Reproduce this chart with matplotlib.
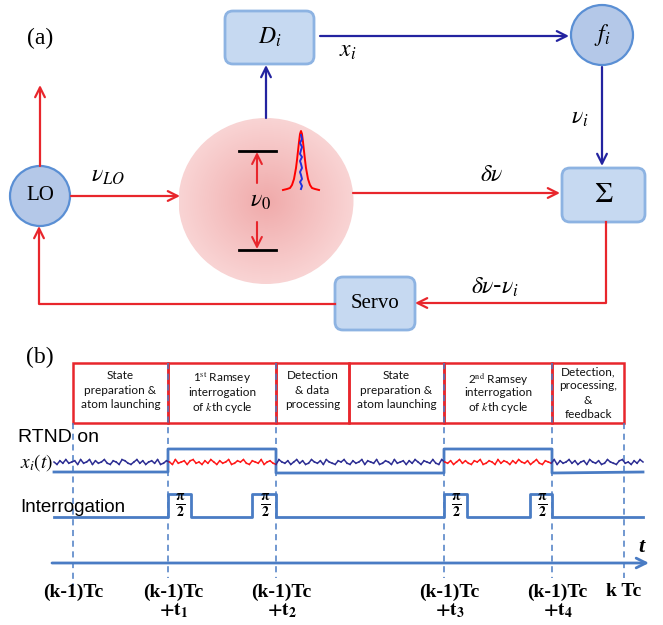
import numpy as np
import matplotlib
matplotlib.use("Agg")
import matplotlib.pyplot as plt
from matplotlib.patches import FancyBboxPatch, Ellipse, Circle

plt.rcParams['mathtext.fontset'] = 'stix'

# ---- data ----
# (b) timing diagram: phase boundaries along the time axis (diagram units)
phase_edges = [73, 168, 276, 349, 444, 552, 624]
phase_labels = [
    ["State", "preparation &", "atom launching"],
    [r"1$^{\rm st}$ Ramsey", "interrogation", r"of $k$th cycle"],
    ["Detection", "& data", "processing"],
    ["State", "preparation &", "atom launching"],
    [r"2$^{\rm nd}$ Ramsey", "interrogation", r"of $k$th cycle"],
    ["Detection,", "processing,", "&", "feedback"],
]
# time markers and their labels
tick_times = [73, 168, 276, 444, 552, 624]
tick_top = ["(k-1)Tc", "(k-1)Tc", "(k-1)Tc", "(k-1)Tc", "(k-1)Tc", "k Tc"]
tick_bottom = ["", r"$\mathbf{+t_1}$", r"$\mathbf{+t_2}$", r"$\mathbf{+t_3}$", r"$\mathbf{+t_4}$", ""]
# RTND on windows (ramsey interrogations) and pi/2 pulses
rtnd_windows = [(168, 276), (444, 552)]
pulses = [(168, 191), (252, 276), (444, 467), (530, 552)]
# x_i(t) trace, read by eye (offsets)
trace = [0, 2, -1, 1, -2, 1, 0, -1, 2, -2, 1, 0, -2, 2, -1, 1, 0, -2, 1, 2,
         -1, 0, 2, -2, -1, 1, 2, 0, -2, 1, -1, 2, 0, -1, 1, -2, 2, 1, -1, 0,
         2, -2, 1, 0, -1, 2, -1, -2, 1, 0, 2, -1, 1, -2, 0, 2, -1, 1, 0, -2,
         2, 1, -1, 0, -2, 1, 2, -1, 0, 1, -2, 2, 0, -1, 1, 2, -2, 0, 1, -1,
         2, 0, -2, 1, -1, 2, 1, -2, 0, 1, -1, 2, -2, 0, 1, 2, -1, 0, -2, 1,
         2, -1, 1, 0, -2, 2, -1, 0, 1, -2, 2, 1, -1, 0, 2, -2, 1, 0, -1, 2,
         -1, 1, -2, 0, 2, -1, 0, 1, -2, 1, 2, -2, 0, 1, -1, 2, 0, -2, 1, -1,
         1, 2, -1, 0, -2, 2, 1, -1, 0, 2, -2, 1, -1, 0, 2, -1, 1, -2, 0, 1,
         -1, 2, 0, -2, 1, 2, -1, 0, 1, -2, 2, -1, 1, 0, -2, 1, -1, 2, 0, -1,
         2, -2, 0, 1, -1, 2, 1, -2, 0, 1, 2, -1, -2, 1, 0, 2, -1, 1, -2, 0]
# line profile sketched in the atom cloud
prof_dx = [-18, -14, -11, -9, -7, -5, -4, -3, -2, -1, 0, 1, 2, 3, 4, 5, 7, 9, 11, 14, 18]
prof_h = [0, 1, 2, 5, 11, 22, 30, 39, 48, 56, 59, 56, 48, 39, 30, 22, 11, 5, 2, 1, 0]
meas_dx = [0, 1, -1, 1, 0, -1, 1, -1, 0, 1, -1, 0, 1, -1, 1, 0]
meas_h = [55, 51, 47, 43, 40, 36, 33, 29, 26, 22, 18, 15, 11, 8, 4, 1]

RED = '#e8262c'
NAVY = '#2323a0'
BOXF = '#c6d9f1'
BOXE = '#8db3e2'
CIRF = '#b4c8e8'
CIRE = '#5a8fd4'
TL = '#4a7cc4'

fig = plt.figure(figsize=(6.63, 6.25), dpi=100)
ax = fig.add_axes([0, 0, 1, 1])
ax.set_xlim(0, 663)
ax.set_ylim(625, 0)
ax.axis('off')


def arrow(x0, y0, x1, y1, c, lw=1.6):
    ax.annotate('', xy=(x1, y1), xytext=(x0, y0),
                arrowprops=dict(arrowstyle='->,head_length=0.7,head_width=0.35',
                                color=c, lw=lw, shrinkA=0, shrinkB=0))


def rbox(x0, y0, x1, y1, label, fs=14):
    ax.add_patch(FancyBboxPatch((x0, y0), x1 - x0, y1 - y0,
                                boxstyle='round,pad=0,rounding_size=8',
                                fc=BOXF, ec=BOXE, lw=2))
    ax.text((x0 + x1) / 2, (y0 + y1) / 2, label, ha='center', va='center',
            fontsize=fs, family='Liberation Serif')


# ---------------- (a) ----------------
ax.text(40, 38, "(a)", fontsize=17, family='Liberation Serif', ha='center', va='center')

# atom cloud with radial gradient
cx, cy, w, h = 266, 201, 175, 166
gx, gy = np.meshgrid(np.linspace(-1, 1, 200), np.linspace(-1, 1, 200))
r = np.clip(np.sqrt(gx ** 2 + gy ** 2), 0, 1)
c0 = np.array([240, 170, 170]) / 255
c1 = np.array([249, 212, 212]) / 255
img = c0[None, None, :] * (1 - r[..., None]) + c1[None, None, :] * r[..., None]
im = ax.imshow(img, extent=(cx - w / 2, cx + w / 2, cy + h / 2, cy - h / 2), zorder=1)
clip = Ellipse((cx, cy), w, h, transform=ax.transData)
im.set_clip_path(clip)

# energy levels
ax.plot([239, 276], [151, 151], color='black', lw=2, zorder=3)
ax.plot([239, 276], [250, 250], color='black', lw=2, zorder=3)
arrow(257, 183, 257, 152, RED, 1.5)
arrow(257, 222, 257, 249, RED, 1.5)
ax.text(260, 200, r'$\nu_0$', fontsize=17, ha='center', va='center', zorder=4)

# line profile
px = [301 + d for d in prof_dx]
py = [190 - v for v in prof_h]
ax.plot(px, py, color='red', lw=1.4, zorder=4)
ax.plot([301 + d for d in meas_dx], [190 - v for v in meas_h], color='#2030e0', lw=1.4, zorder=5)

# blocks
rbox(225, 11, 314, 64, r'$D_i$', 17)
rbox(562, 168, 645, 222, r'$\Sigma$', 21)
rbox(335, 277, 415, 330, 'Servo', 15)
ax.add_patch(Circle((40, 196), 30, fc=CIRF, ec=CIRE, lw=1.6))
ax.text(40, 196, 'LO', fontsize=15, family='Liberation Serif', ha='center', va='center')
ax.add_patch(Ellipse((602, 35), 62, 60, fc=CIRF, ec=CIRE, lw=1.6))
ax.text(602, 35, r'$f_i$', fontsize=17, ha='center', va='center')

# signal paths
arrow(320, 36, 569, 36, NAVY)
ax.text(348, 50, r'$x_i$', fontsize=17, ha='center', va='center')
arrow(602, 67, 602, 166, NAVY)
ax.text(580, 117, r'$\nu_i$', fontsize=17, ha='center', va='center')
arrow(266, 118, 266, 65, NAVY)
arrow(40, 166, 40, 85, RED)
arrow(71, 196, 180, 196, RED)
ax.text(108, 175, r'$\nu_{LO}$', fontsize=17, ha='center', va='center')
arrow(353, 193, 560, 193, RED)
ax.text(492, 174, r'$\delta\nu$', fontsize=17, ha='center', va='center')
ax.plot([606, 606, 420], [222, 303, 303], color=RED, lw=1.6)
arrow(420, 303, 415, 303, RED)
ax.text(495, 287, r'$\delta\nu$-$\nu_i$', fontsize=17, ha='center', va='center')
ax.plot([335, 39, 39], [304, 304, 232], color=RED, lw=1.6)
arrow(39, 232, 39, 226, RED)

# ---------------- (b) ----------------
ax.text(40, 357, "(b)", fontsize=17, family='Liberation Serif', ha='center', va='center')

top, bot = 363, 423
for i, lines in enumerate(phase_labels):
    x0, x1 = phase_edges[i], phase_edges[i + 1]
    ax.add_patch(plt.Rectangle((x0, top), x1 - x0, bot - top, fill=False, ec=RED, lw=1.8))
    n = len(lines)
    y0 = (top + bot) / 2 - (n - 1) * 14.3 / 2 - (3 if n == 3 and i % 3 != 1 else 0)
    for j, s in enumerate(lines):
        ax.text((x0 + x1) / 2, y0 + j * 14.3, s, ha='center', va='center',
                fontsize=8.5, family='Lato', color='#111111')

# dashed time markers
for k, t in enumerate(tick_times):
    ax.plot([t, t], [bot if k in (0, 5) else top, 586 if k == 0 else 578],
            color=TL, lw=1.1, ls=(0, (4, 3)))

ax.text(18, 438, "RTND on", fontsize=14, family='Liberation Sans', va='center')
ax.text(20, 463, r'$x_i(t)$', fontsize=14, va='center')
ax.text(20, 508, "Interrogation", fontsize=13.5, family='Liberation Sans', va='center')

# RTND state line
xs, ys = [54], [472]
for a, b in rtnd_windows:
    xs += [a, a, b, b]
    ys += [ys[-1], 449, 449, 473]
xs.append(643)
ys.append(472)
ax.plot(xs, ys, color=TL, lw=2)

# x_i(t) trace
tx = np.linspace(54, 643, len(trace))
ty = 462 + 1.2 * np.array(trace)
for i in range(len(tx) - 1):
    mid = (tx[i] + tx[i + 1]) / 2
    red = any(a <= mid <= b for a, b in rtnd_windows)
    ax.plot(tx[i:i + 2], ty[i:i + 2], color='#ff1a1a' if red else '#2e2f94', lw=1.1)

# interrogation pulses
xs, ys = [54], [517]
for a, b in pulses:
    xs += [a, a, b, b]
    ys += [517, 494, 494, 517]
    ax.text((a + b) / 2 + 1, 506, r'$\mathbf{\frac{\pi}{2}}$', fontsize=14, ha='center', va='center')
xs.append(643)
ys.append(517)
ax.plot(xs, ys, color=TL, lw=2)

# time axis
arrow(52, 563, 649, 563, TL, 2)
ax.text(641, 547, 't', fontsize=16, family='Liberation Serif', style='italic',
        weight='bold', ha='center', va='center')
for t, s1, s2 in zip(tick_times, tick_top, tick_bottom):
    dx = 5 if s1 != "k Tc" and t != 73 else 0
    ax.text(t + dx, 592, s1, fontsize=14, family='Liberation Serif', weight='bold',
            ha='center', va='center')
    if s2:
        ax.text(t + 6, 610, s2, fontsize=14, ha='center', va='center')

fig.savefig('out.png', dpi=100)
